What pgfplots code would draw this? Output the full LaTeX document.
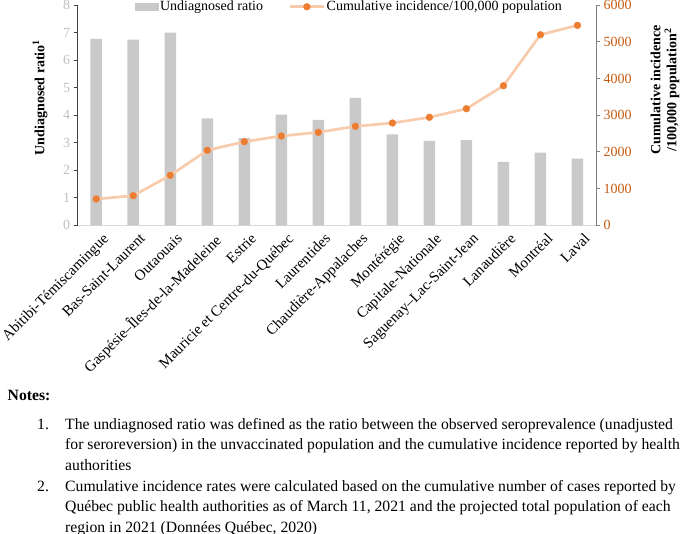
\documentclass[border=0pt]{standalone}
\usepackage{pgfplots}
\pgfplotsset{compat=1.18}
\usepackage{fontspec}
\setmainfont{Liberation Serif}
\definecolor{bargray}{RGB}{201,201,201}
\definecolor{mkorange}{RGB}{237,125,49}
\definecolor{lnpeach}{RGB}{248,203,173}
\definecolor{tickorange}{RGB}{197,90,17}
\definecolor{tickgray}{RGB}{191,191,191}
\definecolor{axdark}{RGB}{64,64,64}
\definecolor{axgray}{RGB}{128,128,128}
\definecolor{axlight}{RGB}{217,217,217}
\newcommand{\fs}{\fontsize{14bp}{16bp}\selectfont}
\newcommand{\fc}{\fontsize{15bp}{17bp}\selectfont}
\newcommand{\fn}{\fontsize{15.7bp}{18bp}\selectfont}
\begin{document}
\begin{tikzpicture}
\path[use as bounding box, clip] (0bp,0bp) rectangle (685bp,534bp);
\begin{axis}[
  at={(77.7bp,308.7bp)}, anchor=south west,
  scale only axis, width=518.3bp, height=220.3bp,
  xmin=-0.5, xmax=13.5, ymin=0, ymax=8,
  xtick={0,...,13}, ytick={0,...,8},
  xticklabels={Abitibi-Témiscamingue,Bas-Saint-Laurent,Outaouais,Gaspésie–Îles-de-la-Madeleine,Estrie,Mauricie et Centre-du-Québec,Laurentides,Chaudière-Appalaches,Montérégie,Capitale-Nationale,Saguenay–Lac-Saint-Jean,Lanaudière,Montréal,Laval},
  axis x line*=bottom, axis y line*=left,
  x axis line style={draw=axlight, line width=1bp, -},
  y axis line style={draw=axdark, line width=1bp, -},
  major x tick style={draw=none},
  ytick style={draw=axdark, line width=0.8bp},
  tick align=outside, major tick length=4bp,
  /pgf/number format/assume math mode=true,
  xticklabel style={font=\fc, rotate=45, anchor=north east, inner sep=1bp, xshift=3bp, yshift=-5bp},
  yticklabel style={font=\fs, text=tickgray},
  ytick pos=left,
]
\addplot[ybar, bar width=11.5bp, fill=bargray, draw=none] coordinates {
(0,6.77) (1,6.74) (2,7.00) (3,3.88) (4,3.17) (5,4.02) (6,3.83) (7,4.63) (8,3.30) (9,3.07) (10,3.09) (11,2.30) (12,2.64) (13,2.42)};
\end{axis}
\begin{axis}[
  at={(77.7bp,308.7bp)}, anchor=south west,
  scale only axis, width=518.3bp, height=220.3bp,
  xmin=-0.5, xmax=13.5, ymin=0, ymax=6000,
  ytick={0,1000,...,6000},
  axis x line=none, axis y line*=right,
  y axis line style={draw=axgray, line width=1bp, -},
  ytick style={draw=axgray, line width=0.8bp},
  tick align=outside, major tick length=4bp,
  scaled y ticks=false,
  /pgf/number format/assume math mode=true,
  yticklabel style={font=\fs, text=tickorange, /pgf/number format/1000 sep={}},
  legend columns=2,
  legend style={draw=none, fill=none, font=\fs, at={(0.524,0.992)}, anchor=center,
    /tikz/every even column/.append style={column sep=24bp},
    inner sep=0pt, nodes={inner xsep=1.5bp}},
]
\addlegendimage{legend image code/.code={\fill[bargray] (0bp,-3.3bp) rectangle (23bp,3.3bp);}}
\addlegendentry{Undiagnosed ratio}
\addplot[color=lnpeach, line width=2.7bp, mark=*, mark size=3.4bp,
  mark options={solid, draw=mkorange, fill=mkorange, line width=0.4bp},
  legend image code/.code={\draw[mark repeat=2,mark phase=2] plot coordinates {(0bp,0bp) (17bp,0bp) (34bp,0bp)};}]
  coordinates {
(0,716) (1,806) (2,1361) (3,2042) (4,2277) (5,2432) (6,2532) (7,2696) (8,2786) (9,2941) (10,3175) (11,3801) (12,5190) (13,5446)};
\addlegendentry{Cumulative incidence/100,000 population}
\end{axis}
\node[rotate=90, font=\fs\bfseries] at (40bp,436.5bp) {Undiagnosed ratio\textsuperscript{1}};
\node[rotate=90, font=\fs\bfseries, align=center] at (665bp,444bp) {Cumulative incidence\\/100,000 population\textsuperscript{2}};
\node[anchor=base west, font=\fn\bfseries, inner sep=0pt] at (7.5bp,133bp) {Notes:};
\node[anchor=base west, font=\fn, inner sep=0pt] at (37bp,104.6bp) {1.};
\node[anchor=base west, font=\fn, inner sep=0pt] at (65bp,104.6bp) {The undiagnosed ratio was defined as the ratio between the observed seroprevalence (unadjusted};
\node[anchor=base west, font=\fn, inner sep=0pt] at (65bp,84bp) {for seroreversion) in the unvaccinated population and the cumulative incidence reported by health};
\node[anchor=base west, font=\fn, inner sep=0pt] at (65bp,63.4bp) {authorities};
\node[anchor=base west, font=\fn, inner sep=0pt] at (37bp,42.8bp) {2.};
\node[anchor=base west, font=\fn, inner sep=0pt] at (65bp,42.8bp) {Cumulative incidence rates were calculated based on the cumulative number of cases reported by};
\node[anchor=base west, font=\fn, inner sep=0pt] at (65bp,22.2bp) {Québec public health authorities as of March 11, 2021 and the projected total population of each};
\node[anchor=base west, font=\fn, inner sep=0pt] at (65bp,1.6bp) {region in 2021 (Données Québec, 2020)};
\end{tikzpicture}
\end{document}
